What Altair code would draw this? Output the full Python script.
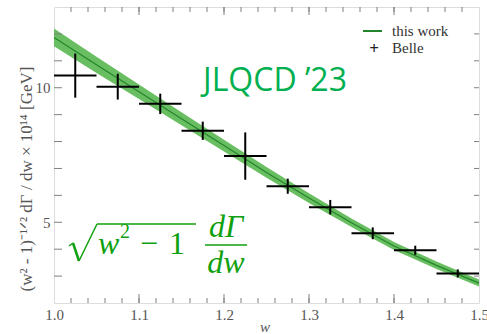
import altair as alt
import pandas as pd

# ---------------- data ----------------
w_grid = [1.00, 1.05, 1.10, 1.15, 1.20, 1.25, 1.30, 1.35, 1.40, 1.45, 1.50]
band_center = [11.87, 10.85, 9.85, 8.85, 7.85, 6.85, 5.90, 4.98, 4.12, 3.40, 2.74]
band_half = [0.33, 0.30, 0.27, 0.24, 0.22, 0.20, 0.18, 0.16, 0.15, 0.14, 0.13]

belle_lo = [1.00, 1.05, 1.10, 1.15, 1.20, 1.25, 1.30, 1.35, 1.40, 1.45]
belle_hi = [1.05, 1.10, 1.15, 1.20, 1.25, 1.30, 1.35, 1.40, 1.45, 1.50]
belle_val = [10.45, 10.04, 9.40, 8.40, 7.46, 6.34, 5.56, 4.59, 3.96, 3.10]
belle_err = [0.82, 0.48, 0.38, 0.34, 0.88, 0.28, 0.27, 0.22, 0.17, 0.15]

x_labels = [1.0, 1.1, 1.2, 1.3, 1.4, 1.5]
y_labels = [5, 10]
x_minor_ticks = [round(1.0 + 0.02 * i, 2) for i in range(1, 25)]
y_ticks = list(range(3, 13))

# ---------------- layout / style ----------------
W, H = 425, 296
FRAME = "#808080"
LBL = "#555555"
SERIF = "Liberation Serif"
BAND = "#62bb5a"
LINE = "#23862a"
ANN = "#00b050"
FORM = "#10a010"

band = pd.DataFrame({
    "w": w_grid,
    "c": band_center,
    "lo": [c - h for c, h in zip(band_center, band_half)],
    "hi": [c + h for c, h in zip(band_center, band_half)],
})
belle = pd.DataFrame({
    "lo": belle_lo,
    "hi": belle_hi,
    "mid": [(a + b) / 2 for a, b in zip(belle_lo, belle_hi)],
    "v": belle_val,
    "vlo": [v - e for v, e in zip(belle_val, belle_err)],
    "vhi": [v + e for v, e in zip(belle_val, belle_err)],
})

xs = alt.Scale(domain=[1.0, 1.5], nice=False, zero=False)
ys = alt.Scale(domain=[2, 13], nice=False, zero=False)

axis_x = alt.Axis(values=x_labels, format=".1f", ticks=False, domain=False, grid=False,
                  labelFont=SERIF, labelFontSize=15, labelColor=LBL, labelPadding=4,
                  labelFlush=False, labelOverlap=False, title=None)
axis_y = alt.Axis(values=y_labels, format="d", ticks=False, domain=False, grid=False,
                  labelFont=SERIF, labelFontSize=15, labelColor=LBL, labelPadding=4,
                  labelFlush=False, labelOverlap=False, title=None)


def X(f):
    return alt.X(f, scale=xs, axis=axis_x, title=None)


def Y(f):
    return alt.Y(f, scale=ys, axis=axis_y, title=None)


area = alt.Chart(band).mark_area(color=BAND, opacity=0.95).encode(
    x=X("w:Q"), y=Y("lo:Q"), y2="hi:Q",
)
center = alt.Chart(band).mark_line(color=LINE, strokeWidth=1.2).encode(
    x=X("w:Q"), y=Y("c:Q"),
)
hbars = alt.Chart(belle).mark_rule(color="black", strokeWidth=2).encode(
    x=X("lo:Q"), x2="hi:Q", y=Y("v:Q"),
)
vbars = alt.Chart(belle).mark_rule(color="black", strokeWidth=2).encode(
    x=X("mid:Q"), y=Y("vlo:Q"), y2="vhi:Q",
)


def xticks(vals, y0, y1):
    return alt.Chart(pd.DataFrame({"t": vals})).mark_rule(color=FRAME, strokeWidth=1).encode(
        x=X("t:Q"), y=alt.value(y0), y2=alt.value(y1))


def yticks(vals, x0, x1):
    return alt.Chart(pd.DataFrame({"t": vals})).mark_rule(color=FRAME, strokeWidth=1).encode(
        y=Y("t:Q"), x=alt.value(x0), x2=alt.value(x1))


major_inner = x_labels[1:-1]
ticks = [
    xticks(major_inner, H, H - 9), xticks(x_minor_ticks, H, H - 5),
    xticks(major_inner, 0, 8), xticks(x_minor_ticks, 0, 5),
    yticks(y_ticks, 0, 8), yticks(y_ticks, W, W - 5),
]

one = alt.Data(values=[{}])


def txt(s, x, y, size, color, font=SERIF, align="left", style="normal", angle=0,
        baseline="alphabetic", weight="normal"):
    kw = dict(font=font, fontSize=size, color=color, align=align, baseline=baseline,
              fontStyle=style, fontWeight=weight)
    if angle:
        kw["angle"] = angle
    return alt.Chart(one).mark_text(**kw).encode(
        x=alt.value(x), y=alt.value(y), text=alt.value(s))


def seg(x0, y0, x1, y1, color, width):
    return alt.Chart(one).mark_rule(color=color, strokeWidth=width).encode(
        x=alt.value(x0), y=alt.value(y0), x2=alt.value(x1), y2=alt.value(y1))


annotations = [
    # legend
    seg(309, 24, 328, 24, LINE, 2),
    txt("this work", 338, 29, 15, "#333333"),
    txt("+", 320, 42, 17, "#222222", align="center", baseline="middle", weight="bold"),
    txt("Belle", 338, 46, 15, "#333333"),
    # JLQCD label
    txt("JLQCD \u201923", 221, 84, 32, ANN, font="Open Sans", align="center"),
    # formula sqrt(w^2-1) dGamma/dw
    seg(15, 239, 19, 236, FORM, 1.5),
    seg(19, 236, 25, 254, FORM, 2.5),
    seg(25, 254, 43, 217, FORM, 1.5),
    seg(43, 217, 142, 217, FORM, 1.5),
    txt("w", 44, 247, 32, FORM, style="italic"),
    txt("2", 66, 231, 20, FORM),
    txt("\u2212", 86, 247, 32, FORM),
    txt("1", 115, 247, 32, FORM),
    txt("d\u0393", 172, 230, 32, FORM, align="center", style="italic"),
    seg(151, 238, 193, 238, FORM, 1.5),
    txt("dw", 172, 266, 32, FORM, align="center", style="italic"),
    # axis titles
    txt("(w\u00b2  -  1)\u207b\u00b9\u141f\u00b2  d\u0393  /  dw  \u00d7  10\u00b9\u2074  [GeV]", -27, 172, 17, LBL,
        align="center", baseline="middle", angle=270),
    txt("w", 211, 325, 15, LBL, align="center", style="italic"),
]

chart = alt.layer(area, center, *ticks, hbars, vbars, *annotations).properties(
    width=W, height=H,
    padding={"left": 54, "top": 7, "right": 8, "bottom": 31},
    autosize="none",
).configure_view(stroke=FRAME, strokeWidth=1).configure(background="white")

chart.save("out.html", embed_options={"renderer": "svg", "actions": False})
